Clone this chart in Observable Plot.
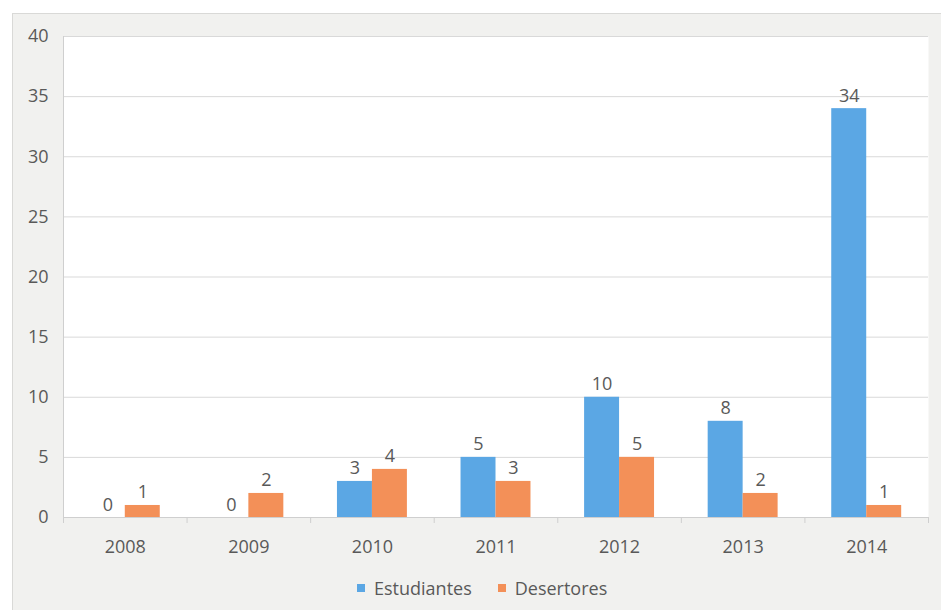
<!DOCTYPE html>
<html>
<head>
<meta charset="utf-8">
<script src="https://cdn.jsdelivr.net/npm/d3@7"></script>
<script src="https://cdn.jsdelivr.net/npm/@observablehq/plot@0.6"></script>
<style>
  html, body { margin: 0; padding: 0; background: #ffffff; }
  #wrap { position: relative; width: 941px; height: 610px; overflow: hidden; font-family: "Open Sans", sans-serif; }
  #panel { position: absolute; left: 12px; top: 13px; width: 940px; height: 610px; background: #f1f1ef; border-left: 1px solid #d9d9d7; border-top: 1px solid #d9d9d7; }
  #chart { position: absolute; left: 0; top: 0; }
  #legend { position: absolute; left: 357px; top: 576px; height: 24px; display: flex; align-items: center; font-size: 18px; color: #595959; white-space: nowrap; }
  .item { display: flex; align-items: center; margin-right: 26px; }
  .sw { width: 8px; height: 8px; margin-right: 9px; }
</style>
</head>
<body>
<div id="wrap">
  <div id="panel"></div>
  <div id="chart"></div>
  <div id="legend"></div>
</div>
<script>
const years = ["2008", "2009", "2010", "2011", "2012", "2013", "2014"];
const series = ["Estudiantes", "Desertores"];
const estudiantes = [0, 0, 3, 5, 10, 8, 34];
const desertores = [1, 2, 4, 3, 5, 2, 1];
const colors = ["#5ba7e4", "#f39058"];
const yTicks = [0, 5, 10, 15, 20, 25, 30, 35, 40];

const barHalf = 0.283; // fraction of a category step for each bar
const xDomain = [-0.5, years.length - 0.5];
const boundaries = d3.range(years.length + 1).map(i => i - 0.5);

const rows = [];
years.forEach((y, i) => {
  rows.push({year: y, i, series: series[0], value: estudiantes[i], x1: i - barHalf, x2: i});
  rows.push({year: y, i, series: series[1], value: desertores[i], x1: i, x2: i + barHalf});
});

const chart = Plot.plot({
  width: 941,
  height: 566,
  marginLeft: 63,
  marginRight: 13,
  marginTop: 36,
  marginBottom: 49,
  style: {background: "transparent", fontFamily: "Open Sans, sans-serif", fontSize: "18px", color: "#595959"},
  x: {domain: xDomain},
  y: {domain: [0, 40]},
  color: {domain: series, range: colors},
  marks: [
    Plot.frame({fill: "white", stroke: null}),
    Plot.gridY(yTicks, {stroke: "#d9d9d9", strokeOpacity: 1}),
    Plot.ruleX([xDomain[0]], {stroke: "#cfcfcf"}),
    Plot.ruleY([0], {stroke: "#cfcfcf"}),
    Plot.axisY({ticks: yTicks, tickSize: 0, tickPadding: 15, label: null, fill: "#595959", fontSize: 18}),
    Plot.axisX({ticks: boundaries, tickSize: 6, tickFormat: () => "", label: null, stroke: "#cfcfcf"}),
    Plot.axisX({ticks: d3.range(years.length), tickSize: 0, tickPadding: 23, tickFormat: i => years[i], label: null, fill: "#595959", fontSize: 18}),
    Plot.rectY(rows, {x1: "x1", x2: "x2", y: "value", fill: "series"}),
    Plot.text(rows, {x: d => (d.x1 + d.x2) / 2, y: "value", text: d => String(d.value), lineAnchor: "bottom", dy: -7, fill: "#595959", fontSize: 18})
  ]
});
document.getElementById("chart").appendChild(chart);

const legend = document.getElementById("legend");
series.forEach((s, k) => {
  const it = document.createElement("div");
  it.className = "item";
  const sw = document.createElement("div");
  sw.className = "sw";
  sw.style.background = colors[k];
  const t = document.createElement("span");
  t.textContent = s;
  it.appendChild(sw);
  it.appendChild(t);
  legend.appendChild(it);
});
</script>
</body>
</html>
